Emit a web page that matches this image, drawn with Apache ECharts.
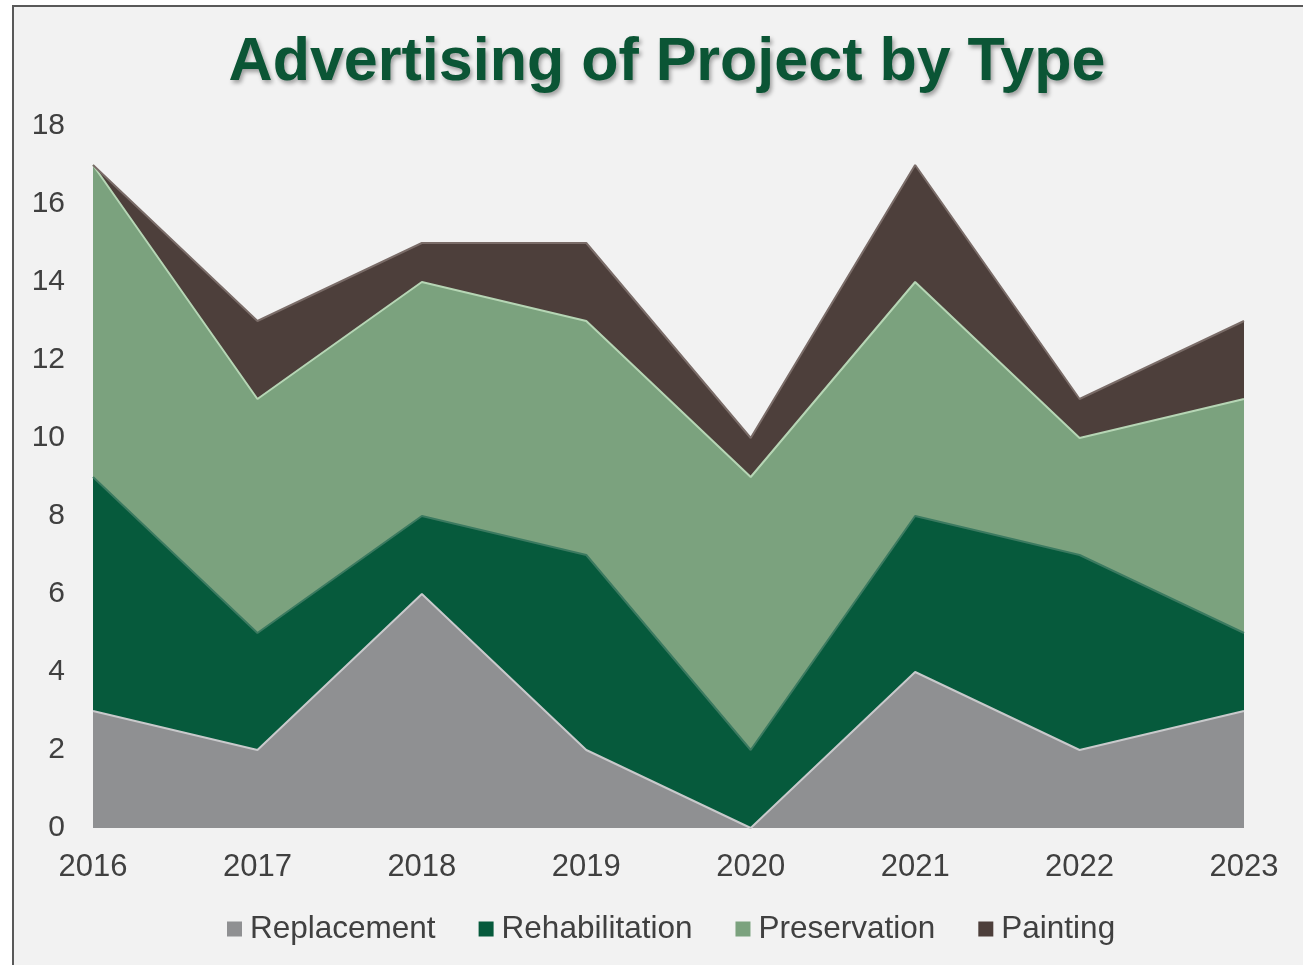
<!DOCTYPE html>
<html>
<head>
<meta charset="utf-8">
<script src="https://cdn.jsdelivr.net/npm/echarts@6/dist/echarts.min.js"></script>
<style>
  html, body { margin: 0; padding: 0; background: #ffffff; }
  #frame {
    position: absolute; left: 12px; top: 5px; width: 1303px; height: 970px;
    border: 2px solid #595959; background: #f2f2f2; box-sizing: border-box;
  }
  #main { position: absolute; left: 0; top: 0; width: 1303px; height: 965px; }
</style>
</head>
<body>
<div id="frame"></div>
<div id="main"></div>
<script>
  const years = ['2016', '2017', '2018', '2019', '2020', '2021', '2022', '2023'];
  const replacement = [3, 2, 6, 2, 0, 4, 2, 3];
  const rehabilitation = [6, 3, 2, 5, 2, 4, 5, 2];
  const preservation = [8, 6, 6, 6, 7, 6, 3, 6];
  const painting = [0, 2, 1, 2, 1, 3, 1, 2];

  const colors = {
    Replacement: '#8f9092',
    Rehabilitation: '#065a3c',
    Preservation: '#7ba27e',
    Painting: '#4d3f3b'
  };
  const edges = {
    Replacement: '#c9cacc',
    Rehabilitation: '#3b7a60',
    Preservation: '#b6d6b5',
    Painting: '#7a6c68'
  };

  function area(name, data) {
    return {
      name: name,
      type: 'line',
      stack: 'total',
      data: data,
      symbol: 'none',
      color: colors[name],
      lineStyle: { width: 2, color: edges[name] },
      areaStyle: { color: colors[name], opacity: 1 },
      emphasis: { disabled: true }
    };
  }

  const chart = echarts.init(document.getElementById('main'), null, { renderer: 'canvas' });
  const option = {
    backgroundColor: 'transparent',
    animation: false,
    title: {
      text: 'Advertising of Project by Type',
      left: 662,
      top: 28,
      textAlign: 'center',
      textStyle: {
        fontFamily: 'Liberation Sans',
        fontSize: 61,
        fontWeight: 'bold',
        color: '#0b5535',
        textShadowColor: 'rgba(0,0,0,0.35)',
        textShadowBlur: 4,
        textShadowOffsetX: 2,
        textShadowOffsetY: 3
      }
    },
    legend: {
      bottom: 15,
      left: 222,
      itemWidth: 15,
      itemHeight: 15,
      itemGap: 43,
      icon: 'rect',
      textStyle: { fontFamily: 'Liberation Sans', fontSize: 31.5, color: '#404040', padding: [0, 0, 0, 3] },
      data: ['Replacement', 'Rehabilitation', 'Preservation', 'Painting']
    },
    grid: { left: 93, right: 59, top: 126, bottom: 137 },
    xAxis: {
      type: 'category',
      boundaryGap: false,
      data: years,
      axisLine: { show: false },
      axisTick: { show: false },
      axisLabel: { fontFamily: 'Liberation Sans', fontSize: 31, color: '#404040', margin: 24 }
    },
    yAxis: {
      type: 'value',
      min: 0,
      max: 18,
      interval: 2,
      splitLine: { show: false },
      axisLine: { show: false },
      axisTick: { show: false },
      axisLabel: { fontFamily: 'Liberation Sans', fontSize: 30, color: '#404040', margin: 28 }
    },
    series: [
      area('Replacement', replacement),
      area('Rehabilitation', rehabilitation),
      area('Preservation', preservation),
      area('Painting', painting)
    ]
  };
  chart.setOption(option);
</script>
</body>
</html>
